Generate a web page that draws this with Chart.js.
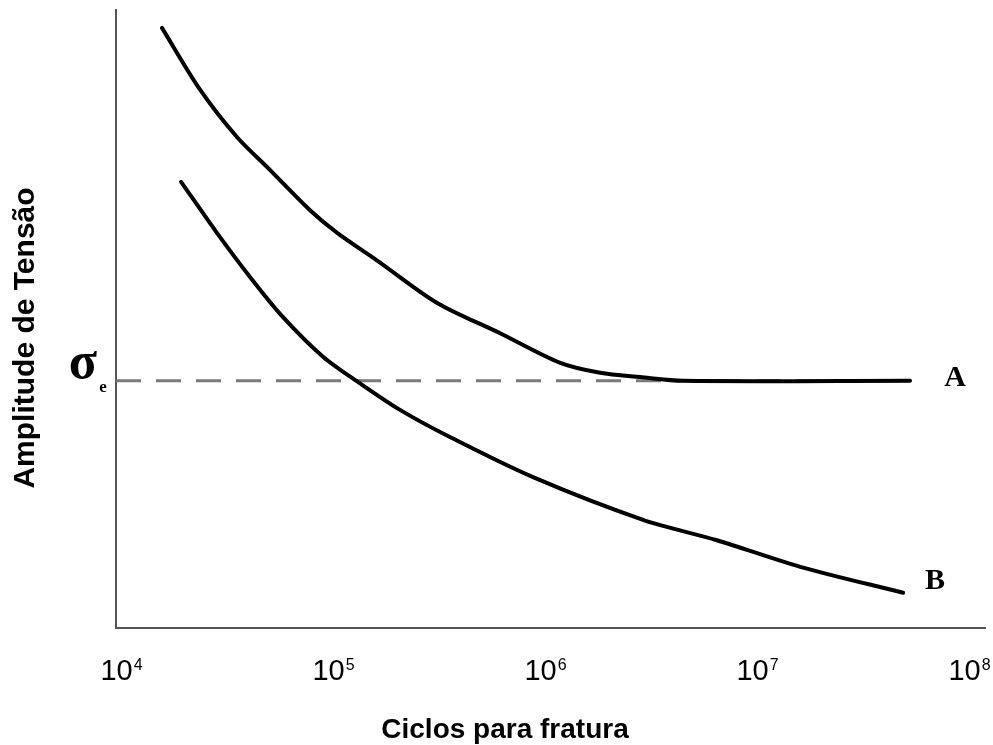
<!DOCTYPE html>
<html>
<head>
<meta charset="utf-8">
<script src="https://cdn.jsdelivr.net/npm/chart.js@4/dist/chart.umd.min.js"></script>
<style>
  body { margin: 0; background: #fff; }
  canvas { display: block; }
</style>
</head>
<body>
<canvas id="sn-canvas" width="993" height="745"></canvas>
<script>
// Curva A (aço: tem limite de fadiga) - ciclos e amplitude relativa
const cyclesA = [1.56e4, 2.36e4, 3.53e4, 5.05e4, 7.79e4, 1.05e5, 1.61e5, 3.10e5, 6.14e5, 1.18e6, 1.82e6, 2.81e6, 4.48e6, 5.27e7];
const stressA = [97.1, 87.1, 79.4, 74.1, 67.6, 63.9, 59.5, 52.6, 47.7, 42.9, 41.3, 40.6, 40.0, 40.0];

// Curva B (sem limite de fadiga)
const cyclesB = [1.92e4, 2.84e4, 4.06e4, 5.81e4, 8.97e4, 1.34e5, 2.07e5, 3.56e5, 8.78e5, 2.90e6, 6.47e6, 1.60e7, 4.89e7];
const stressB = [72.2, 63.9, 56.8, 50.3, 43.9, 39.6, 35.3, 30.9, 24.4, 17.5, 14.2, 9.9, 5.7];

// Limite de fadiga (linha tracejada)
const sigmaE = 40;
const sigmaECycles = [9470, 5.27e7];

// Décadas do eixo x
const decades = [4, 5, 6, 7, 8];

const xMin = 9470;
const xMax = 1.19e8;

function toPoints(xs, ys) {
    return xs.map((x, i) => ({ x: x, y: ys[i] }));
}

// Desenha rótulos das décadas, títulos dos eixos e as letras das curvas
const labelsPlugin = {
    id: 'labels',
    afterDraw(chart) {
        const ctx = chart.ctx;
        const xs = chart.scales.x;
        const ys = chart.scales.y;
        ctx.save();
        ctx.fillStyle = '#000';

        // 10^n com expoente sobrescrito
        decades.forEach(d => {
            const px = xs.getPixelForValue(Math.pow(10, d));
            ctx.font = '29px "Liberation Sans", Arial, sans-serif';
            const base = '10';
            const wBase = ctx.measureText(base).width;
            ctx.font = '16px "Liberation Sans", Arial, sans-serif';
            const exp = String(d);
            const wExp = ctx.measureText(exp).width;
            const left = px - (wBase + wExp) / 2;
            ctx.textAlign = 'left';
            ctx.textBaseline = 'alphabetic';
            ctx.font = '29px "Liberation Sans", Arial, sans-serif';
            ctx.fillText(base, left, 680);
            ctx.font = '16px "Liberation Sans", Arial, sans-serif';
            ctx.fillText(exp, left + wBase + 1, 670);
        });

        // Título do eixo x
        ctx.font = 'bold 28px "Liberation Sans", Arial, sans-serif';
        ctx.textAlign = 'center';
        ctx.textBaseline = 'middle';
        ctx.fillText('Ciclos para fratura', 505, 730);

        // Título do eixo y
        ctx.save();
        ctx.translate(26, 338);
        ctx.rotate(-Math.PI / 2);
        ctx.font = 'bold 30px "Liberation Sans", Arial, sans-serif';
        ctx.fillText('Amplitude de Tensão', 0, 0);
        ctx.restore();

        // σe junto ao eixo
        const pySigma = ys.getPixelForValue(sigmaE);
        ctx.font = 'bold 52px "Liberation Serif", "DejaVu Serif", serif';
        ctx.fillText('σ', 83, pySigma - 16);
        ctx.font = 'bold 17px "Liberation Serif", "DejaVu Serif", serif';
        ctx.fillText('e', 103, pySigma + 7);

        // Letras das curvas
        ctx.font = 'bold 30px "Liberation Serif", "DejaVu Serif", serif';
        const endA = cyclesA.length - 1;
        ctx.fillText('A', xs.getPixelForValue(cyclesA[endA]) + 45, ys.getPixelForValue(stressA[endA]) - 3);
        const endB = cyclesB.length - 1;
        ctx.fillText('B', xs.getPixelForValue(cyclesB[endB]) + 32, ys.getPixelForValue(stressB[endB]) - 12);

        ctx.restore();
    }
};

const ctx = document.getElementById('sn-canvas').getContext('2d');
const chart = new Chart(ctx, {
    type: 'line',
    data: {
        datasets: [{
            label: 'A',
            data: toPoints(cyclesA, stressA),
            borderColor: '#000',
            borderWidth: 4,
            pointRadius: 0,
            tension: 0.3,
            borderCapStyle: 'round'
        }, {
            label: 'B',
            data: toPoints(cyclesB, stressB),
            borderColor: '#000',
            borderWidth: 4,
            pointRadius: 0,
            tension: 0.3,
            borderCapStyle: 'round'
        }, {
            label: 'σe',
            data: toPoints(sigmaECycles, [sigmaE, sigmaE]),
            borderColor: '#7a7a7a',
            borderWidth: 3,
            borderDash: [25, 15],
            pointRadius: 0
        }]
    },
    options: {
        responsive: false,
        animation: false,
        layout: {
            padding: { left: 116, top: 10, right: 8, bottom: 117 }
        },
        plugins: {
            legend: { display: false },
            tooltip: { enabled: false }
        },
        scales: {
            x: {
                type: 'logarithmic',
                min: xMin,
                max: xMax,
                ticks: { display: false },
                grid: { display: false, drawTicks: false },
                border: { display: true, color: '#555', width: 2 },
                afterFit: s => { s.height = 0; }
            },
            y: {
                type: 'linear',
                min: 0,
                max: 100,
                ticks: { display: false },
                grid: { display: false, drawTicks: false },
                border: { display: true, color: '#555', width: 2 },
                afterFit: s => { s.width = 0; }
            }
        }
    },
    plugins: [labelsPlugin]
});
</script>
</body>
</html>
